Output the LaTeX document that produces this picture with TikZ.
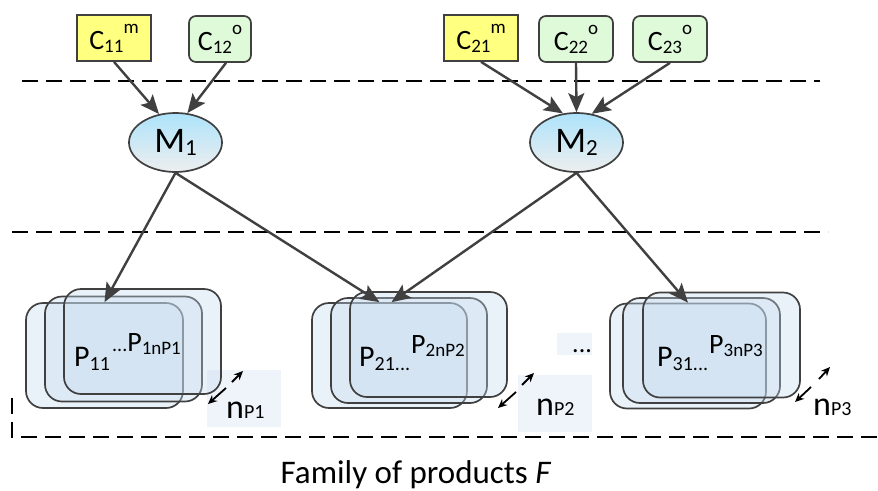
\documentclass[tikz,border=0pt]{standalone}
\usepackage{fontspec}
\setmainfont{Carlito}
\usetikzlibrary{arrows.meta,shapes.geometric}
\definecolor{edge}{HTML}{404040}
\definecolor{cyel}{HTML}{FFFF80}
\definecolor{cgrn}{HTML}{DFFAD9}
\definecolor{mtop}{HTML}{ADE3FB}
\definecolor{mbot}{HTML}{EEEEEE}
\definecolor{pfill}{HTML}{C4DAEF}
\definecolor{nbox}{HTML}{EEF4FA}
\newcommand\myfs[1]{\fontsize{#1}{#1}\selectfont}
\newcommand\dn[3]{\raisebox{#2}{\myfs{#1}#3}}
\tikzset{
  mbox/.style={draw=edge, fill=cyel, line width=1.7pt, minimum width=74pt, minimum height=46pt, inner sep=0pt, font=\myfs{28}},
  obox/.style={mbox, fill=cgrn, rounded corners=7pt},
  mnode/.style={ellipse, draw=edge, line width=1.7pt, top color=mtop, bottom color=mbot, minimum width=93pt, minimum height=59pt, inner sep=0pt, font=\myfs{36}},
  prect/.style={draw=edge, line width=1.7pt, fill=pfill, fill opacity=0.35, rounded corners=17pt, inner sep=0pt, minimum width=157pt, minimum height=105pt},
  arr/.style={draw=edge, line width=2.4pt, -{Stealth[length=19pt,width=16pt,inset=4pt]}},
  sarr/.style={draw=black, line width=1.8pt, -{Stealth[length=9pt,width=8pt]}},
  dline/.style={draw=black, line width=1.8pt, dash pattern=on 16pt off 8pt},
  lbl/.style={anchor=base west, inner sep=0pt},
  nb/.style={fill=nbox, anchor=north west, inner sep=0pt},
}
\begin{document}
\begin{tikzpicture}[x=1pt,y=-1pt]
\useasboundingbox (0,0) rectangle (878,490);
% dashed separators
\draw[dline] (22,81) -- (820,81);
\draw[dline] (12,232) -- (828,232);
\draw[dline] (12,398) -- (12,437) -- (878,437);
% component nodes
\node[mbox] (c11) at (114,38) {C\dn{19}{-3pt}{11}\dn{19}{16pt}{m}};
\node[obox, minimum width=62pt] (c12) at (220,39) {C\dn{19}{-3pt}{12}\dn{19}{16pt}{o}};
\node[mbox] (c21) at (481,38) {C\dn{19}{-3pt}{21}\dn{19}{16pt}{m}};
\node[obox] (c22) at (576,39) {C\dn{19}{-3pt}{22}\dn{19}{16pt}{o}};
\node[obox] (c23) at (670,39) {C\dn{19}{-3pt}{23}\dn{19}{16pt}{o}};
% modules
\node[mnode] (m1) at (175.5,142.5) {M\dn{23}{-3pt}{1}};
\node[mnode] (m2) at (576.5,142.5) {M\dn{23}{-3pt}{2}};
% light boxes
\node[nb, minimum width=74pt, minimum height=57pt] (nb1) at (207,370) {};
\node[nb, minimum width=74pt, minimum height=57pt] (nb2) at (518,375) {};
\node[nb, minimum width=35pt, minimum height=22pt] (nbd) at (557,333) {};
% product stacks
\node[prect] (p1a) at (104.5,355.5) {};
\node[prect] (p1b) at (123.5,349) {};
\node[prect] (p1c) at (142.5,341.5) {};
\node[prect, minimum width=155pt] (p2a) at (389.5,355.5) {};
\node[prect, minimum width=156pt] (p2b) at (409,350.5) {};
\node[prect] (p2c) at (428.5,344.5) {};
\node[prect, minimum width=156pt] (p3a) at (688,356) {};
\node[prect] (p3b) at (701.5,350.5) {};
\node[prect] (p3c) at (721.5,345) {};
% product labels
\node[lbl, font=\myfs{30}] (t11) at (74,366) {P\dn{20}{-4pt}{11}};
\node[lbl, font=\myfs{28}] (t1n) at (112,351) {{\myfs{20}...}P\dn{19}{-3pt}{1nP1}};
\node[lbl, font=\myfs{30}] (t21) at (359,366) {P\dn{20}{-4pt}{21{\myfs{20}...}}};
\node[lbl, font=\myfs{28}] (t2n) at (411,353) {P\dn{19}{-3pt}{2nP2}};
\node[lbl, font=\myfs{30}] (t31) at (657,366) {P\dn{20}{-4pt}{31{\myfs{20}...}}};
\node[lbl, font=\myfs{28}] (t3n) at (709,353) {P\dn{19}{-3pt}{3nP3}};
\node[lbl, font=\myfs{26}] (dots) at (572,352) {...};
% counts
\node[lbl, font=\myfs{34}] (n1) at (226,418) {n\dn{20}{0pt}{P1}};
\node[lbl, font=\myfs{34}] (n2) at (536,415) {n\dn{20}{0pt}{P2}};
\node[lbl, font=\myfs{34}] (n3) at (813,415) {n\dn{20}{0pt}{P3}};
\coordinate (a1t) at (232,382); \coordinate (a1h) at (243,371);
\coordinate (b1t) at (226,388); \coordinate (b1h) at (208,404);
\coordinate (a2t) at (522,385); \coordinate (a2h) at (534,373);
\coordinate (b2t) at (516,392); \coordinate (b2h) at (498,408);
\coordinate (a3t) at (819,379); \coordinate (a3h) at (830,367);
\coordinate (b3t) at (811,387); \coordinate (b3h) at (795,402);
\draw[sarr] (a1t) -- (a1h); \draw[sarr] (b1t) -- (b1h);
\draw[sarr] (a2t) -- (a2h); \draw[sarr] (b2t) -- (b2h);
\draw[sarr] (a3t) -- (a3h); \draw[sarr] (b3t) -- (b3h);
% connectors
\draw[arr] (c11.south) -- (m1.120);
\draw[arr] ([xshift=6pt]c12.south) -- (m1.68);
\draw[arr] (c21.south) -- (m2.115);
\draw[arr] (c22.south) -- (m2.north);
\draw[arr] (c23.south) -- (m2.62);
\draw[arr] (m1.south) -- (p1a.north);
\draw[arr] (m1.south) -- ([xshift=-10pt]p2a.north);
\draw[arr] (m2.south) -- ([xshift=2pt]p2a.north);
\draw[arr] (m2.south) -- (p3a.north);
% title
\node[anchor=base, inner sep=0pt, font=\myfs{33}] (title) at (416,483) {Family of products \textit{F}};
\end{tikzpicture}
\end{document}
